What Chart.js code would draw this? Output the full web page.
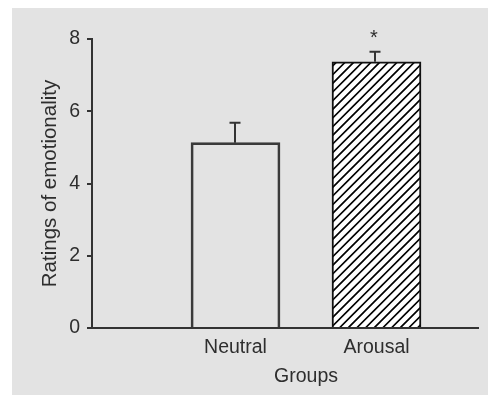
<!DOCTYPE html>
<html>
<head>
<meta charset="utf-8">
<script src="https://cdn.jsdelivr.net/npm/chart.js@4"></script>
<style>
  html, body { margin: 0; padding: 0; background: #fff; }
  #wrap { width: 488px; height: 398px; }
</style>
</head>
<body>
<div id="wrap"><canvas id="myChart"></canvas></div>
<script>
// data
const groups = ['Neutral', 'Arousal'];
const groupPos = [1, 2];
const ratings = [5.13, 7.37];
const errors = [0.55, 0.28];
const marks = ['', '*'];
const yTicks = [0, 2, 4, 6, 8];

const textColor = '#2e2e2e';
const axisColor = '#333';
const fontFamily = '"Liberation Sans", Arial, sans-serif';
const font = { family: fontFamily, size: 19.5 };

// diagonal hatch for the arousal bar
function makeHatch() {
    const T = 26, d = T / 3;
    const c = document.createElement('canvas');
    c.width = T; c.height = T;
    const g = c.getContext('2d');
    g.fillStyle = '#fff';
    g.fillRect(0, 0, T, T);
    g.strokeStyle = '#000';
    g.lineWidth = 1.7;
    g.beginPath();
    for (let k = 0; k <= 6; k++) {
        const v = k * d;
        g.moveTo(v + 3, -3);
        g.lineTo(-3, v + 3);
    }
    g.stroke();
    return g.createPattern(c, 'repeat');
}

const panelBg = {
    id: 'panelBg',
    beforeDraw(chart) {
        const ctx = chart.ctx;
        ctx.save();
        ctx.fillStyle = '#fff';
        ctx.fillRect(0, 0, chart.width, chart.height);
        ctx.fillStyle = '#e3e3e3';
        ctx.fillRect(12, 8, chart.width - 12, 387);
        ctx.restore();
    }
};

// one-sided error bars, asterisks and the x axis title
const extras = {
    id: 'extras',
    afterDatasetsDraw(chart) {
        const ctx = chart.ctx;
        const ys = chart.scales.y, xs = chart.scales.x;
        const meta = chart.getDatasetMeta(0);
        ctx.save();
        ctx.strokeStyle = axisColor;
        ctx.lineWidth = 2;
        meta.data.forEach((bar, i) => {
            const top = ys.getPixelForValue(ratings[i] + errors[i]);
            const base = ys.getPixelForValue(ratings[i]);
            const x = Math.round(bar.x) - 1;
            ctx.beginPath();
            ctx.moveTo(x, base);
            ctx.lineTo(x, top);
            ctx.moveTo(x - 5.5, top);
            ctx.lineTo(x + 5.5, top);
            ctx.stroke();
            if (marks[i]) {
                ctx.fillStyle = textColor;
                ctx.font = '20px ' + fontFamily;
                ctx.textAlign = 'center';
                ctx.textBaseline = 'alphabetic';
                ctx.fillText(marks[i], x - 1, top - 8);
            }
        });
        ctx.fillStyle = textColor;
        ctx.font = '19.5px ' + fontFamily;
        ctx.textAlign = 'center';
        ctx.textBaseline = 'alphabetic';
        ctx.fillText('Groups', xs.getPixelForValue(1.5), 382);
        ctx.restore();
    }
};

const ctx = document.getElementById('myChart');
new Chart(ctx, {
    type: 'bar',
    data: {
        datasets: [{
            data: groupPos.map((p, i) => ({ x: p, y: ratings[i] })),
            backgroundColor: ['rgba(0,0,0,0)', makeHatch()],
            borderColor: ['#3a3a3a', '#111'],
            borderWidth: 2,
            barThickness: 89
        }]
    },
    options: {
        responsive: true,
        maintainAspectRatio: false,
        animation: false,
        layout: { padding: { top: 39, right: 10, bottom: 0, left: 0 } },
        plugins: {
            legend: { display: false },
            tooltip: { enabled: false }
        },
        scales: {
            x: {
                type: 'linear',
                min: -0.018,
                max: 2.72,
                offset: false,
                afterBuildTicks: (axis) => {
                    axis.ticks = groupPos.map(v => ({ value: v }));
                },
                afterFit: (axis) => { axis.height = 70; },
                ticks: {
                    callback: (v) => groups[groupPos.indexOf(v)],
                    color: textColor,
                    font: font,
                    padding: 8,
                    autoSkip: false,
                    maxRotation: 0
                },
                grid: { offset: false, drawOnChartArea: false, drawTicks: false },
                border: { color: axisColor, width: 2 }
            },
            y: {
                min: 0,
                max: 8,
                afterBuildTicks: (axis) => {
                    axis.ticks = yTicks.map(v => ({ value: v }));
                },
                afterFit: (axis) => { axis.width = 92; },
                ticks: { color: textColor, font: font, padding: 7 },
                grid: { drawOnChartArea: false, drawTicks: true, tickLength: 5, color: axisColor, lineWidth: 2 },
                border: { color: axisColor, width: 2 },
                title: {
                    display: true,
                    text: 'Ratings of emotionality',
                    color: textColor,
                    font: { family: fontFamily, size: 20.5 },
                    padding: { top: 38, bottom: 0 }
                }
            }
        }
    },
    plugins: [panelBg, extras]
});
</script>
</body>
</html>
